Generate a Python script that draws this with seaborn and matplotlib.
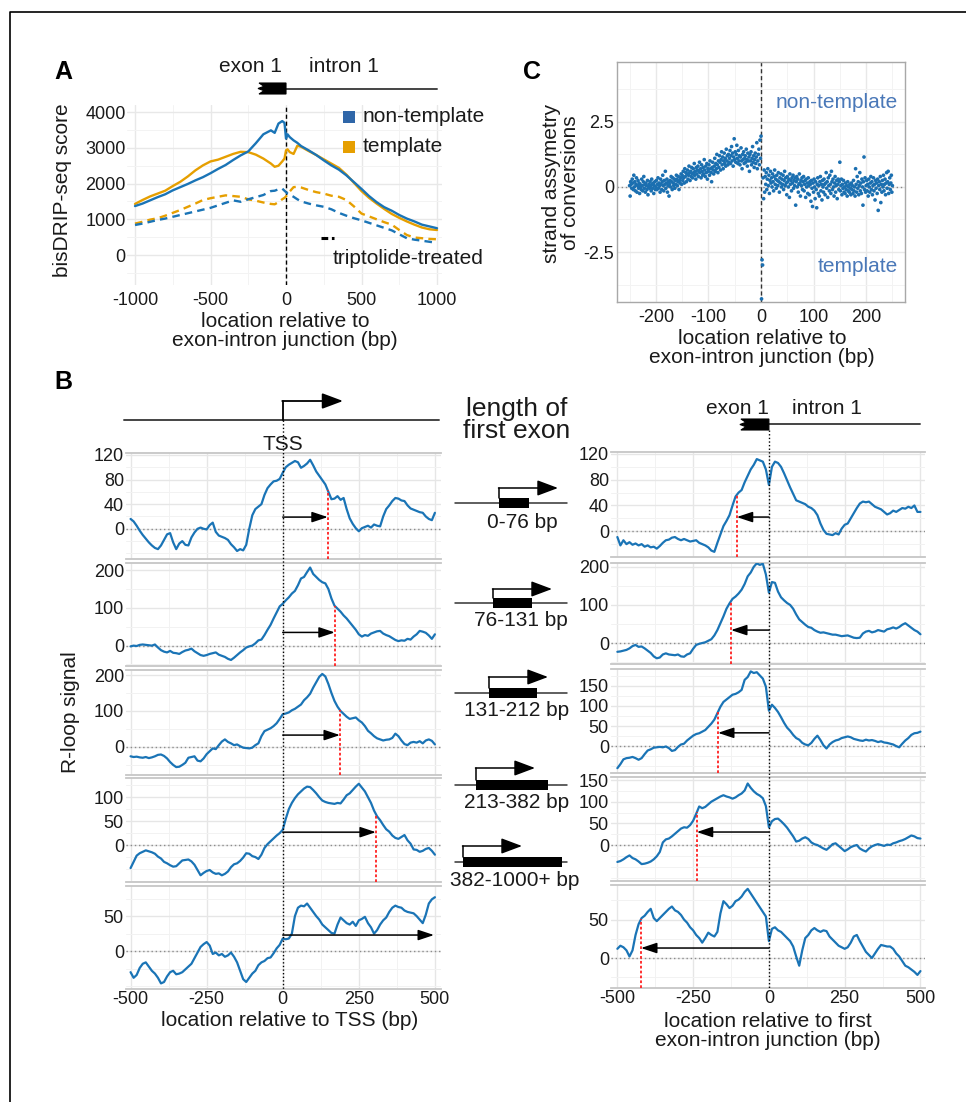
import numpy as np
import pandas as pd
import matplotlib
matplotlib.use("Agg")
import matplotlib.pyplot as plt
import seaborn as sns
from matplotlib.patches import Rectangle, Polygon
from matplotlib.ticker import MultipleLocator, FixedLocator

# ---------------------------------------------------------------- data ----
# Panel A : bisDRIP-seq score around the exon-intron junction
a_pos = [-1000, -950, -900, -850, -800, -750, -700, -650, -600, -550, -500,
         -450, -400, -350, -300, -250, -200, -150, -100, -75, -50, -25, -10,
         0, 10, 25, 50, 75, 100, 150, 200, 250, 300, 350, 400, 450, 500, 550,
         600, 650, 700, 750, 800, 850, 900, 950, 1000]
a_nontemplate = [1370, 1440, 1530, 1620, 1700, 1810, 1900, 1990, 2090, 2180, 2290,
                 2410, 2520, 2660, 2790, 2900, 3130, 3380, 3490, 3420, 3680, 3750, 3700,
                 3260, 3380, 3300, 3210, 3140, 3050, 2930, 2800, 2650, 2510, 2390, 2230,
                 2040, 1850, 1650, 1480, 1340, 1240, 1120, 1020, 940, 850, 800, 750]
a_template = [1430, 1540, 1640, 1720, 1800, 1930, 2050, 2200, 2370, 2510, 2620,
              2670, 2750, 2830, 2890, 2880, 2810, 2700, 2560, 2470, 2500, 2620, 2700,
              2930, 2960, 2880, 2830, 3060, 3030, 2910, 2800, 2680, 2560, 2440, 2250,
              2020, 1790, 1600, 1440, 1290, 1150, 1040, 940, 850, 770, 720, 700]
a_nontemplate_trip = [840, 880, 930, 980, 1020, 1070, 1120, 1170, 1220, 1270, 1320,
                      1390, 1460, 1530, 1490, 1560, 1620, 1680, 1790, 1800, 1840, 1860, 1800,
                      1760, 1720, 1690, 1630, 1560, 1500, 1440, 1390, 1350, 1280, 1180, 1100,
                      1030, 970, 900, 830, 760, 690, 580, 470, 430, 400, 370, 340]
a_template_trip = [880, 930, 990, 1030, 1100, 1180, 1260, 1350, 1440, 1540, 1590,
                   1630, 1670, 1650, 1630, 1560, 1520, 1470, 1430, 1420, 1480, 1560, 1600,
                   1640, 1700, 1780, 1900, 1910, 1890, 1820, 1760, 1720, 1660, 1630, 1540,
                   1360, 1160, 1080, 1000, 920, 850, 700, 560, 490, 470, 450, 440]

# Panel C : strand asymmetry of conversions (one value per bp, -250..250)
c_pos = list(range(-250, 251))
c_asym = [
    0.05, -0.35, 0.20, 0.10, -0.05, 0.30, 0.15, -0.10, 0.45, 0.00,
    0.20, -0.15, 0.10, 0.35, -0.20, 0.05, 0.25, -0.05, 0.15, -0.25,
    0.10, 0.00, -0.10, 0.30, 0.05, -0.15, 0.20, 0.40, -0.05, 0.10,
    -0.20, 0.15, 0.05, -0.10, 0.25, -0.30, 0.00, 0.10, -0.05, 0.20,
    0.05, -0.15, 0.30, 0.10, -0.05, 0.15, -0.25, 0.05, 0.20, -0.10,
    0.00, 0.25, -0.10, 0.10, 0.35, -0.05, 0.15, 0.05, -0.20, 0.30,
    0.10, -0.10, 0.20, 0.45, 0.05, -0.15, 0.25, 0.10, 0.60, -0.05,
    0.15, 0.30, -0.20, 0.05, 0.20, -0.35, 0.10, 0.25, 0.00, 0.40,
    0.20, -0.10, 0.35, 0.15, 0.05, 0.30, -0.05, 0.25, 0.10, 0.45,
    0.30, 0.05, 0.20, 0.40, -0.10, 0.25, 0.15, 0.35, 0.50, 0.10,
    0.45, 0.25, 0.60, 0.35, 0.15, 0.70, 0.40, 0.55, 0.20, 0.50,
    0.65, 0.30, 0.45, 0.80, 0.55, 0.25, 0.60, 0.40, 0.75, 0.50,
    0.35, 0.70, 0.55, 0.90, 0.45, 0.60, 0.30, 0.75, 0.50, 0.65,
    0.80, 0.40, 0.60, 0.95, 0.55, 0.70, 0.35, 0.85, 0.60, 0.45,
    0.75, 0.50, 1.05, 0.65, 0.40, 0.80, 0.55, 0.90, 0.30, 0.70,
    0.60, 0.85, 0.45, 1.00, 0.70, 0.55, 0.20, 0.75, 0.95, 0.65,
    0.50, 0.80, 1.10, 0.60, 0.90, 0.70, 1.25, 0.85, 0.55, 1.00,
    0.75, 1.20, 0.95, 0.65, 1.05, 1.35, 0.85, 1.15, 0.70, 1.00,
    1.30, 0.90, 1.10, 0.80, 1.45, 1.00, 1.20, 0.85, 1.25, 0.95,
    1.10, 1.40, 0.90, 1.20, 1.55, 1.00, 1.30, 0.80, 1.15, 1.85,
    1.05, 1.35, 0.95, 1.25, 1.60, 1.10, 0.90, 1.40, 1.00, 1.20,
    0.85, 1.15, 1.50, 1.00, 0.70, 1.25, 1.05, 1.35, 0.90, 1.10,
    1.20, 0.95, 1.45, 1.05, 0.80, 1.30, 1.00, 1.15, 0.60, 1.25,
    1.00, 1.35, 0.85, 1.10, 1.55, 0.95, 1.20, 0.75, 1.05, 1.30,
    0.90, 1.15, 1.70, 0.70, 1.00, 1.25, 1.45, 0.85, 1.80, 1.10,
    1.95, -4.30, -2.80, -3.00, 0.35, -0.45, 0.65, -0.20, 0.40, 0.10,
    0.55, -0.10, 0.30, 0.70, 0.05, 0.45, -0.25, 0.25, 0.60, 0.15,
    0.35, 0.00, 0.50, 0.20, -0.15, 0.40, 0.65, 0.10, 0.30, -0.05,
    0.45, 0.25, 0.05, 0.55, 0.20, -0.20, 0.35, 0.15, 0.50, 0.00,
    0.30, 0.10, 0.45, -0.10, 0.25, 0.60, 0.05, 0.35, 0.15, -0.30,
    0.40, 0.20, 0.00, 0.30, -0.40, 0.50, 0.10, 0.25, -0.15, 0.35,
    0.15, 0.45, -0.05, 0.25, 0.05, 0.35, -0.70, 0.20, 0.40, 0.00,
    0.30, -0.20, 0.10, 0.50, 0.15, -0.35, 0.25, 0.05, 0.35, -0.10,
    0.20, 0.40, -0.15, 0.10, 0.25, -0.40, 0.30, 0.00, 0.15, -0.25,
    0.35, 0.05, -0.30, 0.20, 0.10, -0.55, 0.25, -0.05, -0.75, 0.15,
    -0.20, 0.30, 0.00, -0.45, 0.20, -0.10, -0.80, 0.10, 0.35, -0.25,
    0.05, -0.35, 0.20, 0.40, -0.15, 0.10, -0.50, 0.25, 0.00, -0.20,
    0.30, 0.10, -0.30, 0.15, 0.55, -0.05, 0.20, -0.40, 0.35, 0.05,
    -0.15, 0.45, 0.10, -0.25, 0.60, 0.20, -0.10, 0.30, 0.00, -0.35,
    0.15, 0.40, -0.20, 0.05, 0.25, -0.45, 0.10, 0.30, -0.10, 0.20,
    0.95, -0.15, 0.05, 0.30, -0.30, 0.10, -0.05, 0.25, -0.20, 0.00,
    -0.25, 0.15, -0.10, 0.05, -0.35, 0.20, -0.15, 0.00, -0.20, 0.10,
    -0.05, -0.30, 0.15, -0.10, 0.05, -0.25, 0.25, -0.15, 0.00, -0.35,
    0.70, 0.10, -0.20, 0.40, -0.05, 0.20, -0.30, 0.05, 0.55, -0.15,
    0.15, -0.25, 0.30, 0.00, -0.70, 0.20, 1.15, -0.10, 0.35, -0.20,
    0.05, 0.25, -0.15, 0.10, -0.35, 0.30, 0.00, -0.20, 0.15, 0.40,
    -0.10, 0.20, -0.30, 0.05, 0.35, -0.15, 0.10, -0.50, 0.25, -0.05,
    0.15, -0.25, 0.30, -0.90, 0.05, 0.20, -0.10, 0.40, -0.60, 0.10,
    -0.20, 0.25, 0.00, 0.45, -0.15, 0.10, 0.30, -0.30, 0.15, 0.55,
    -0.05, 0.20, 0.60, -0.25, 0.10, 0.35, -0.10, 0.15, 0.45, -0.20,
    0.05]

# Panel B : R-loop signal, positions every 10 bp from -500 to 500
b_pos = list(range(-500, 510, 10))
exon_bins = ['0-76 bp', '76-131 bp', '131-212 bp', '213-382 bp', '382-1000+ bp']

tss_0_76 = [16, 12, 5, -3, -10, -16, -22, -27, -31, -33,
            -27, -18, -9, -7, -22, -33, -24, -20, -26, -27,
            -14, -6, 0, 2, 0, -1, 6, 10, -5, -11,
            -13, -15, -18, -25, -30, -36, -33, -35, -26, 0,
            22, 32, 36, 40, 55, 66, 72, 77, 78, 81,
            91,
            100, 104, 107, 110, 108, 99, 102, 106, 112, 103,
            93, 86, 79, 72, 60, 48, 49, 53, 47, 50,
            32, 17, 8, 1, -4, 1, 3, 5, 2, 7,
            5, 4, 20, 32, 38, 45, 50, 49, 46, 45,
            38, 33, 31, 29, 27, 26, 20, 16, 14, 26]
tss_76_131 = [-2, 0, -1, 2, 3, 2, 1, 0, 3, -5,
              -12, -16, -18, -14, -19, -20, -22, -17, -13, -11,
              -8, -15, -20, -25, -27, -25, -22, -20, -18, -24,
              -27, -30, -35, -38, -32, -25, -18, -12, -5, -2,
              0, 6, 14, 16, 28, 42, 55, 72, 88, 104,
              111,
              120, 128, 138, 145, 160, 178, 182, 195, 207, 190,
              182, 174, 168, 165, 150, 125, 106, 98, 90, 80,
              72, 62, 52, 42, 30, 24, 28, 26, 32, 35,
              38, 39, 32, 28, 25, 20, 15, 12, 14, 13,
              18, 16, 24, 30, 39, 37, 34, 27, 18, 30]
tss_131_212 = [-26, -28, -27, -29, -30, -28, -31, -29, -26, -22,
               -21, -25, -32, -42, -50, -56, -55, -50, -44, -30,
               -28, -26, -38, -40, -32, -20, -12, -4, -6, 5,
               15, 21, 14, 10, 5, 7, 2, -2, -3, -4,
               -2, 5, 10, 30, 44, 48, 52, 58, 66, 78,
               91,
               93, 96, 102, 106, 112, 118, 130, 138, 148, 165,
               180, 195, 203, 196, 175, 150, 128, 112, 100, 92,
               84, 78, 80, 82, 74, 68, 58, 45, 38, 30,
               24, 21, 18, 20, 21, 25, 37, 30, 18, 8,
               5, 12, 14, 12, 16, 10, 18, 21, 17, 7]
tss_213_382 = [-48, -35, -22, -17, -14, -11, -13, -15, -18, -24,
               -28, -35, -38, -42, -45, -44, -38, -32, -31, -30,
               -34, -41, -52, -63, -58, -54, -52, -57, -60, -59,
               -63, -60, -55, -46, -40, -38, -33, -26, -17, -18,
               -23, -25, -29, -20, -6, 2, 8, 14, 20, 25,
               32,
               55, 75, 88, 98, 106, 112, 118, 122, 121, 115,
               108, 100, 93, 90, 88, 87, 86, 88, 87, 95,
               104, 108, 115, 122, 128, 120, 112, 100, 88, 72,
               60, 52, 42, 33, 28, 20, 15, 13, 17, 21,
               10, 3, -9, -10, -14, -12, -8, -6, -12, -20]
tss_382_1000 = [-30, -38, -34, -24, -18, -16, -22, -28, -32, -38,
                -46, -44, -36, -30, -28, -33, -32, -30, -26, -22,
                -18, -10, -2, 6, 10, 13, 8, -4, -2, -6,
                -4, -8, -6, -2, -8, -16, -28, -40, -44, -38,
                -32, -28, -20, -16, -14, -10, -9, -3, 4, 9,
                18,
                17, 18, 25, 50, 62, 65, 64, 68, 62, 56,
                50, 45, 38, 34, 30, 26, 25, 38, 48, 44,
                40, 38, 42, 36, 44, 46, 49, 40, 34, 25,
                30, 38, 44, 48, 56, 62, 65, 63, 62, 58,
                56, 55, 54, 50, 45, 40, 52, 68, 74, 77]

jct_0_76 = [-9, -22, -14, -20, -17, -21, -19, -22, -20, -24,
            -22, -25, -24, -27, -23, -18, -14, -13, -10, -9,
            -12, -14, -12, -14, -16, -15, -14, -18, -20, -22,
            -25, -30, -32, -18, -5, 8, 16, 25, 40, 54,
            60, 64, 76, 86, 96, 103, 112, 110, 108, 96,
            72,
            100, 108, 106, 100, 90, 79, 68, 58, 48, 46,
            44, 42, 38, 36, 32, 25, 12, 2, -4, -5,
            -6, -3, -5, 4, 10, 12, 20, 28, 36, 43,
            46, 45, 46, 42, 38, 36, 34, 30, 26, 28,
            32, 30, 33, 36, 35, 38, 36, 40, 30, 30]
jct_76_131 = [-23, -22, -20, -18, -14, -8, -5, -10, -9, -14,
              -20, -26, -35, -40, -38, -30, -27, -30, -31, -32,
              -30, -35, -36, -30, -27, -15, -5, -2, 0, 2,
              6, 10, 20, 34, 52, 70, 90, 104, 116, 122,
              130, 140, 155, 175, 185, 200, 209, 205, 208, 180,
              132,
              160, 158, 135, 120, 112, 105, 100, 90, 75, 62,
              55, 48, 42, 40, 34, 30, 27, 28, 26, 24,
              22, 22, 20, 18, 19, 20, 17, 14, 13, 14,
              25, 30, 32, 28, 30, 34, 32, 30, 36, 38,
              41, 38, 42, 48, 52, 46, 40, 34, 30, 23]
jct_131_212 = [-55, -45, -33, -30, -29, -27, -30, -34, -30, -20,
               -11, -8, -4, -3, -2, -3, -1, -5, -12, -10,
               -2, 4, 6, 14, 20, 26, 30, 32, 36, 40,
               48, 56, 66, 82, 98, 110, 116, 122, 128, 130,
               134, 140, 165, 172, 186, 182, 184, 176, 168, 148,
               88,
               103, 95, 85, 72, 58, 46, 38, 28, 20, 16,
               8, 4, 2, 8, 18, 26, 15, 2, -6, 4,
               10, 14, 16, 20, 22, 24, 22, 18, 16, 14,
               13, 16, 14, 15, 13, 10, 12, 9, 8, 6,
               4, 0, -3, 6, 14, 20, 28, 32, 33, 36]
jct_213_382 = [-39, -37, -33, -28, -24, -30, -33, -38, -44, -43,
               -41, -38, -33, -26, -16, 6, 13, 15, 20, 26,
               32, 38, 41, 40, 46, 56, 72, 89, 85, 88,
               94, 100, 104, 108, 112, 115, 112, 110, 107, 110,
               115, 119, 126, 142, 132, 124, 118, 114, 108, 90,
               41,
               55, 60, 61, 55, 48, 40, 30, 20, 8, 10,
               15, 18, 14, 6, 2, 0, -4, -8, -11, -5,
               2, 4, -2, -8, -14, -10, -5, -2, 0, -8,
               -12, -15, -8, -3, 0, 2, 0, -2, 1, 0,
               4, 6, 9, 11, 14, 18, 22, 20, 16, 15]
jct_382_1000 = [12, 16, 14, 10, 2, 10, 30, 44, 52, 55,
                60, 64, 52, 48, 52, 56, 60, 64, 67, 62,
                60, 56, 50, 46, 40, 36, 30, 26, 20, 26,
                33, 30, 28, 34, 58, 74, 70, 65, 68, 74,
                76, 80, 86, 90, 84, 78, 72, 66, 60, 54,
                22,
                38, 40, 36, 34, 30, 26, 22, 15, 2, -10,
                10, 26, 30, 36, 39, 36, 34, 36, 35, 28,
                24, 20, 16, 14, 12, 14, 20, 28, 30, 22,
                15, 8, 4, 0, 6, 12, 17, 16, 15, 15,
                12, 6, 2, -4, -10, -12, -15, -18, -22, -17]

tss_signal = [tss_0_76, tss_76_131, tss_131_212, tss_213_382, tss_382_1000]
jct_signal = [jct_0_76, jct_76_131, jct_131_212, jct_213_382, jct_382_1000]

# first-exon length marks (bp) and arrow heights (signal units)
tss_marks = [148, 171, 188, 306, None]
tss_arrow_end = [148, 171, 188, 306, 497]
tss_arrow_y = [19, 35, 33, 27, 23]
jct_marks = [-106, -125, -168, -238, -422]
jct_arrow_y = [22, 34, 33, 30, 13]
tss_yticks = [[0, 40, 80, 120], [0, 100, 200], [0, 100, 200], [0, 50, 100], [0, 50]]
jct_yticks = [[0, 40, 80, 120], [0, 100, 200], [0, 50, 100, 150], [0, 50, 100, 150], [0, 50]]

# ---------------------------------------------------------------- style ----
sns.set_theme(style="white")
plt.rcParams['font.family'] = ['Liberation Sans', 'DejaVu Sans']
plt.rcParams['axes.unicode_minus'] = False

BLUE = '#1a74b6'
ORANGE = '#e69f00'
TXT = '#1a1a1a'
W, H = 966, 1102
fig = plt.figure(figsize=(W / 100, H / 100), dpi=100)
fig.patch.set_facecolor('white')


def box(x0, y0, x1, y1):
    return [x0 / W, 1 - y1 / H, (x1 - x0) / W, (y1 - y0) / H]


def xpx(bx, lim, v):
    return bx[0] + (v - lim[0]) / (lim[1] - lim[0]) * (bx[1] - bx[0])


# ---------------------------------------------------------------- panel A --
A_BX, A_BY = (127, 442), (105, 285)
A_XLIM, A_YLIM = (-1053, 1033), (-840, 4200)
axA = fig.add_axes(box(A_BX[0], A_BY[0], A_BX[1], A_BY[1]))
n = len(a_pos)
dfA = pd.DataFrame({
    'pos': a_pos * 4,
    'score': a_nontemplate + a_template + a_nontemplate_trip + a_template_trip,
    'strand': ['non-template'] * n + ['template'] * n + ['non-template'] * n + ['template'] * n,
    'cond': ['untreated'] * (2 * n) + ['triptolide'] * (2 * n),
})
sns.lineplot(data=dfA, x='pos', y='score', hue='strand', style='cond',
             palette={'non-template': BLUE, 'template': ORANGE},
             dashes={'untreated': '', 'triptolide': (3.2, 2.2)},
             hue_order=['template', 'non-template'],
             estimator=None, linewidth=1.7, legend=False, ax=axA)
axA.set_xlim(*A_XLIM)
axA.set_ylim(*A_YLIM)
axA.set_xticks([-1000, -500, 0, 500, 1000])
axA.set_yticks([0, 1000, 2000, 3000, 4000])
axA.xaxis.set_minor_locator(FixedLocator([-750, -250, 250, 750]))
axA.yaxis.set_minor_locator(FixedLocator([-500, 500, 1500, 2500, 3500]))
axA.grid(which='major', color='#e8e8e8', lw=1.0)
axA.grid(which='minor', color='#f3f3f3', lw=0.7)
axA.set_axisbelow(True)
for s in axA.spines.values():
    s.set_visible(False)
axA.tick_params(length=0, labelsize=13, labelcolor=TXT)
axA.tick_params(axis='x', pad=5)
axA.tick_params(axis='y', pad=1)
axA.set_xlabel('')
axA.set_ylabel('')
axA.axvline(0, color='black', ls=(0, (3, 2)), lw=1.0, zorder=1)

# ---------------------------------------------------------------- panel C --
C_BX, C_BY = (617, 905), (62, 302)
axC = fig.add_axes(box(C_BX[0], C_BY[0], C_BX[1], C_BY[1]))
axC.axhline(0, color='#888888', ls=(0, (1, 2)), lw=1.0, zorder=1)
axC.axvline(0, color='#333333', ls=(0, (3, 2)), lw=1.0, zorder=1)
sns.scatterplot(x=c_pos, y=c_asym, ax=axC, s=7, color='#1b6fb0',
                edgecolor='none', linewidth=0, zorder=3)
axC.set_xlim(-274, 274)
axC.set_ylim(-4.42, 4.8)
axC.set_xticks([-200, -100, 0, 100, 200])
axC.set_yticks([-2.5, 0, 2.5])
axC.set_yticklabels(['-2.5', '0', '2.5'])
axC.xaxis.set_minor_locator(FixedLocator([-250, -150, -50, 50, 150, 250]))
axC.yaxis.set_minor_locator(FixedLocator([-3.75, -1.25, 1.25, 3.75]))
axC.grid(which='major', color='#e8e8e8', lw=1.0)
axC.grid(which='minor', color='#f3f3f3', lw=0.7)
axC.set_axisbelow(True)
for s in axC.spines.values():
    s.set_visible(True)
    s.set_color('#a8a8a8')
    s.set_linewidth(1.0)
axC.tick_params(length=0, labelsize=13, labelcolor=TXT)
axC.tick_params(axis='x', pad=5)
axC.tick_params(axis='y', pad=2)
axC.set_xlabel('')
axC.set_ylabel('')

# ---------------------------------------------------------------- panel B --
L_BX = (126, 441)
L_XLIM = (-515, 520)
L_ROWS = [(453, 559), (563, 666), (670, 775), (778, 882), (886, 989)]
L_YLIM = [(-49, 123), (-54, 219), (-78, 214), (-77, 140), (-54, 93)]
R_BX = (611, 925)
R_XLIM = (-521, 515)
R_ROWS = [(452, 557), (563, 664), (669, 773), (777, 881), (885, 988)]
R_YLIM = [(-40, 123), (-55, 210), (-67, 192), (-83, 157), (-39, 95)]


def style_b(ax, xlim, ylim, yticks, bottom):
    ax.set_xlim(*xlim)
    ax.set_ylim(*ylim)
    ax.set_xticks([-500, -250, 0, 250, 500])
    ax.xaxis.set_minor_locator(FixedLocator([-375, -125, 125, 375]))
    ax.set_yticks(yticks)
    ax.yaxis.set_minor_locator(MultipleLocator((yticks[1] - yticks[0]) / 2))
    ax.grid(which='major', color='#e6e6e6', lw=1.0)
    ax.grid(which='minor', color='#f2f2f2', lw=0.7)
    ax.set_axisbelow(True)
    for s in ['left', 'right']:
        ax.spines[s].set_visible(False)
    for s in ['top', 'bottom']:
        ax.spines[s].set_visible(True)
        ax.spines[s].set_color('#c6c6c6')
        ax.spines[s].set_linewidth(1.3)
    ax.tick_params(length=0, labelsize=13, labelcolor=TXT, pad=1.5)
    ax.tick_params(axis='x', labelbottom=bottom, pad=1.5)
    ax.set_xlabel('')
    ax.set_ylabel('')
    ax.axhline(0, color='#8c8c8c', ls=(0, (1, 2)), lw=1.0, zorder=1)


arrow_style = '-|>,head_length=0.6,head_width=0.2'
for i in range(5):
    # left column: relative to TSS
    ax = fig.add_axes(box(L_BX[0], L_ROWS[i][0], L_BX[1], L_ROWS[i][1]))
    sns.lineplot(x=b_pos, y=tss_signal[i], ax=ax, color=BLUE, linewidth=1.6, zorder=3)
    style_b(ax, L_XLIM, L_YLIM[i], tss_yticks[i], i == 4)
    if tss_marks[i] is not None:
        yv = np.interp(tss_marks[i], b_pos, tss_signal[i])
        ax.plot([tss_marks[i], tss_marks[i]], [L_YLIM[i][0], yv], color='#ff2020',
                ls=(0, (1.5, 1.2)), lw=1.3, zorder=4)
    ax.annotate('', xy=(tss_arrow_end[i], tss_arrow_y[i]), xytext=(0, tss_arrow_y[i]),
                arrowprops=dict(arrowstyle=arrow_style, color='black', lw=1.1,
                                shrinkA=0, shrinkB=0, mutation_scale=16), zorder=5)
    # right column: relative to first exon-intron junction
    ax = fig.add_axes(box(R_BX[0], R_ROWS[i][0], R_BX[1], R_ROWS[i][1]))
    sns.lineplot(x=b_pos, y=jct_signal[i], ax=ax, color=BLUE, linewidth=1.6, zorder=3)
    style_b(ax, R_XLIM, R_YLIM[i], jct_yticks[i], i == 4)
    yv = np.interp(jct_marks[i], b_pos, jct_signal[i])
    ax.plot([jct_marks[i], jct_marks[i]], [R_YLIM[i][0], yv], color='#ff2020',
            ls=(0, (1.5, 1.2)), lw=1.3, zorder=4)
    ax.annotate('', xy=(jct_marks[i], jct_arrow_y[i]), xytext=(0, jct_arrow_y[i]),
                arrowprops=dict(arrowstyle=arrow_style, color='black', lw=1.1,
                                shrinkA=0, shrinkB=0, mutation_scale=16), zorder=5)

# ---------------------------------------------------------------- overlay --
ov = fig.add_axes([0, 0, 1, 1], zorder=10)
ov.set_xlim(0, W)
ov.set_ylim(H, 0)
ov.axis('off')
ov.patch.set_visible(False)


def T(x, y, s, size=15, ha='center', va='center', **kw):
    ov.text(x, y, s, fontsize=size, ha=ha, va=va, color=kw.pop('color', TXT), **kw)


def exon_glyph(x0, x1, y0, y1):
    h = y1 - y0
    pts = [(x1, y0), (x0 + 1, y0), (x0 + 6, y0 + 0.3 * h), (x0, y0 + 0.5 * h),
           (x0 + 6, y0 + 0.7 * h), (x0 + 1, y1), (x1, y1)]
    ov.add_patch(Polygon(pts, closed=True, facecolor='black', edgecolor='black',
                         lw=0.8, zorder=3))


# frame
ov.plot([9.5, 9.5, W], [H, 11.5, 11.5], color='black', lw=1.2, solid_capstyle='butt')

# panel letters
T(63, 72, 'A', size=18, weight='bold', color='black')
T(532, 72, 'C', size=18, weight='bold', color='black')
T(63, 382, 'B', size=18, weight='bold', color='black')

# ---- panel A decorations
a0 = xpx(A_BX, A_XLIM, 0)
exon_glyph(a0 - 28, a0, 83, 94)
ov.plot([a0, xpx(A_BX, A_XLIM, 1000)], [89, 89], color='#444444', lw=1.4)
T(250, 67, 'exon 1')
T(344, 67, 'intron 1')
ov.add_patch(Rectangle((343, 111), 12, 12, facecolor='#2f66a8', edgecolor='none'))
ov.add_patch(Rectangle((343, 141), 12, 12, facecolor=ORANGE, edgecolor='none'))
T(363, 117, 'non-template', ha='left')
T(363, 147, 'template', ha='left')
ov.plot([321, 334], [238, 238], color='black', lw=2.2, ls=(0, (2.2, 1.2)))
T(333, 258, 'triptolide-treated', ha='left')
T(62, 190, 'bisDRIP-seq score', rotation=90)
T(285, 331, 'location relative to\nexon-intron junction (bp)', linespacing=1.05)

# ---- panel C decorations
T(898, 102, 'non-template', ha='right', color='#4a78b8')
T(898, 267, 'template', ha='right', color='#4a78b8')
T(561, 183, 'strand assymetry\nof conversions', rotation=90, linespacing=1.05)
T(762, 348, 'location relative to\nexon-intron junction (bp)', linespacing=1.05)

# ---- panel B decorations
l0 = xpx(L_BX, L_XLIM, 0)
r0 = xpx(R_BX, R_XLIM, 0)
ov.plot([124, 439], [420, 420], color='#444444', lw=1.4)
ov.plot([l0, l0], [420, 401], color='black', lw=1.3)
ov.annotate('', xy=(343, 401), xytext=(l0 - 0.5, 401),
            arrowprops=dict(arrowstyle='-|>,head_length=0.8,head_width=0.3',
                            color='black', lw=1.3, shrinkA=0, shrinkB=0, mutation_scale=16))
ov.plot([l0, l0], [420, L_ROWS[-1][1]], color='black', lw=1.0, ls=(0, (1, 1.6)))
T(l0, 444, 'TSS')

exon_glyph(r0 - 29, r0, 419, 430)
ov.plot([r0, xpx(R_BX, R_XLIM, 500)], [424, 424], color='#444444', lw=1.4)
T(737, 408, 'exon 1')
T(827, 408, 'intron 1')
ov.plot([r0, r0], [430, R_ROWS[-1][1]], color='black', lw=1.0, ls=(0, (1, 1.6)))

T(70, 712, 'R-loop signal', rotation=90)
T(290, 1020, 'location relative to TSS (bp)')
T(768, 1031, 'location relative to first\nexon-intron junction (bp)', linespacing=1.0)

# ---- middle column: first-exon length classes
T(517, 409, 'length of', size=19)
T(517, 431, 'first exon', size=19)
mid_line_y = [503, 603, 693, 785, 862]
mid_box_x = [(499, 529), (493, 532), (489, 537), (476, 548), (463, 562)]
mid_arrow_top = [488, 589, 677, 768, 846]
mid_arrow_tip = [558, 552, 548, 535, 522]
mid_label_y = [523, 621, 710, 803, 880]
mid_label_x = [522, 521, 517, 517, 515]
for i in range(5):
    yl = mid_line_y[i]
    bx0, bx1 = mid_box_x[i]
    ov.plot([455, bx0], [yl, yl], color='#333333', lw=1.1, zorder=2)
    ov.plot([bx1, 567], [yl, yl], color='#333333', lw=1.1, zorder=2)
    ov.fill_between([bx0, bx1], yl - 5, yl + 5, color='black', lw=0, zorder=3)
    ov.plot([bx0, bx0], [yl - 5, mid_arrow_top[i]], color='black', lw=1.1, zorder=3)
    ov.annotate('', xy=(mid_arrow_tip[i], mid_arrow_top[i]), xytext=(bx0 - 0.5, mid_arrow_top[i]),
                arrowprops=dict(arrowstyle='-|>,head_length=0.8,head_width=0.3',
                                color='black', lw=1.1, shrinkA=0, shrinkB=0, mutation_scale=16))
    T(mid_label_x[i], mid_label_y[i], exon_bins[i])

fig.savefig('out.png', dpi=100, facecolor='white')
